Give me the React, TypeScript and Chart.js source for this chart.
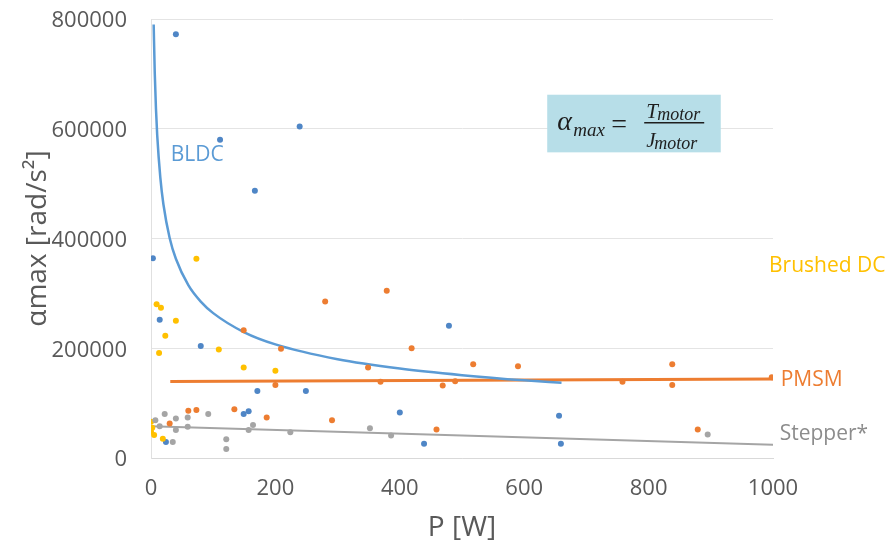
import React, { useEffect, useRef } from 'react';
import { Chart, registerables } from 'chart.js';

Chart.register(...registerables);

// ---- Data ----
const X_MIN = 0;
const X_MAX = 1000;
const X_STEP = 200;
const Y_MIN = 0;
const Y_MAX = 800000;
const Y_STEP = 200000;

const bldcX = [40, 111, 239, 167, 3, 14, 80, 171, 249, 149, 157, 400, 479, 439, 24, 656, 659];
const bldcY = [772000, 580000, 604000, 487000, 364000, 252000, 204000, 122000, 122000, 80000, 85000, 83000, 241000, 26000, 29000, 77000, 26000];

const pmsmX = [149, 280, 379, 419, 209, 349, 369, 200, 469, 489, 60, 73, 134, 186, 291, 459, 30, 518, 590, 758, 838, 838, 879, 998];
const pmsmY = [233000, 285000, 305000, 200000, 199000, 165000, 139000, 133000, 132000, 140000, 86000, 87500, 89000, 74000, 69000, 52000, 63000, 171000, 167000, 139000, 171000, 133000, 52000, 147000];

const brushedX = [73, 9, 16, 40, 23, 13, 109, 149, 200, 0, 2, 0, 5, 19];
const brushedY = [363000, 280000, 274000, 250000, 223000, 191500, 197500, 165000, 159000, 66000, 55000, 48000, 42000, 35000];

const stepperX = [7, 22, 40, 59, 59, 14, 40, 35, 92, 121, 121, 164, 157, 224, 352, 386, 895];
const stepperY = [69000, 80000, 72000, 74000, 57000, 58000, 51000, 29000, 80000, 34000, 16500, 60000, 51000, 47000, 54000, 41000, 43000];

// trend lines
const bldcTrendX = [4.3, 6, 8, 10, 15, 20, 30, 40, 60, 80, 100, 150, 200, 300, 400, 500, 600, 660];
const bldcTrendY = [790000, 703000, 636000, 588000, 511000, 462000, 401000, 363000, 315000, 285000, 264000, 229000, 207000, 180000, 163000, 151000, 141500, 137000];

const pmsmTrendX = [31, 1000];
const pmsmTrendY = [139500, 144000];

const stepperTrendX = [0, 1000];
const stepperTrendY = [58000, 24000];

// text annotations (placed in data coordinates)
const labelTexts = ['BLDC', 'Brushed DC', 'PMSM', 'Stepper*'];
const labelX = [31.6, 993.6, 1012.4, 1010.8];
const labelY = [552000, 349000, 143000, 44500];
const labelColors = ['#5B9BD5', '#FFC000', '#ED7D31', '#8C8C8C'];

const formulaBoxX = [637, 916];
const formulaBoxY = [557000, 662000];

const X_TITLE = 'P [W]';
const Y_TITLE = 'αmax [rad/s²]';

const toPts = (xs: number[], ys: number[]) => xs.map((x, i) => ({ x, y: ys[i] }));

const annotationPlugin = {
  id: 'annotations',
  afterDraw(chart: any) {
    const { ctx, scales } = chart;
    const xs = scales.x;
    const ys = scales.y;
    ctx.save();
    // series labels
    ctx.textAlign = 'left';
    ctx.textBaseline = 'middle';
    ctx.font = '21px "Open Sans"';
    labelTexts.forEach((t, i) => {
      ctx.fillStyle = labelColors[i];
      ctx.fillText(t, xs.getPixelForValue(labelX[i]), ys.getPixelForValue(labelY[i]));
    });

    // formula box
    const bx0 = xs.getPixelForValue(formulaBoxX[0]);
    const bx1 = xs.getPixelForValue(formulaBoxX[1]);
    const by0 = ys.getPixelForValue(formulaBoxY[1]);
    const by1 = ys.getPixelForValue(formulaBoxY[0]);
    ctx.fillStyle = '#B7DEE8';
    ctx.fillRect(bx0, by0, bx1 - bx0, by1 - by0);

    ctx.fillStyle = '#1E1E1E';
    ctx.textBaseline = 'alphabetic';
    const serif = '"Liberation Serif", "DejaVu Serif", serif';
    ctx.font = `italic 28px ${serif}`;
    ctx.fillText('α', bx0 + 10, by0 + 35);
    ctx.font = `italic 19px ${serif}`;
    ctx.fillText('max', bx0 + 26, by0 + 41);
    ctx.font = `28px ${serif}`;
    ctx.fillText('=', bx0 + 64, by0 + 38);
    // numerator
    ctx.font = `italic 21px ${serif}`;
    ctx.fillText('T', bx0 + 99, by0 + 23);
    ctx.font = `italic 18px ${serif}`;
    ctx.fillText('motor', bx0 + 110, by0 + 25);
    // bar
    ctx.strokeStyle = '#1E1E1E';
    ctx.lineWidth = 1.5;
    ctx.beginPath();
    ctx.moveTo(bx0 + 97, by0 + 28);
    ctx.lineTo(bx0 + 157, by0 + 28);
    ctx.stroke();
    // denominator
    ctx.font = `italic 21px ${serif}`;
    ctx.fillText('J', bx0 + 99, by0 + 52);
    ctx.font = `italic 18px ${serif}`;
    ctx.fillText('motor', bx0 + 107, by0 + 54);
    ctx.restore();
  },
};

export default function App() {
  const canvasRef = useRef<HTMLCanvasElement | null>(null);

  useEffect(() => {
    if (!canvasRef.current) return;
    const pointDs = (label: string, xs: number[], ys: number[], color: string) => ({
      label,
      data: toPts(xs, ys),
      showLine: false,
      pointRadius: 3,
      pointBackgroundColor: color,
      pointBorderColor: color,
      pointBorderWidth: 0,
      order: 1,
    });
    const lineDs = (label: string, xs: number[], ys: number[], color: string, width: number) => ({
      label,
      data: toPts(xs, ys),
      showLine: true,
      pointRadius: 0,
      borderColor: color,
      borderWidth: width,
      cubicInterpolationMode: 'monotone' as const,
      fill: false,
      order: 2,
    });

    const tickFont = { family: '"Open Sans"', size: 22 };
    const titleFont = { family: '"Open Sans"', size: 28 };

    const chart = new Chart(canvasRef.current, {
      type: 'scatter',
      data: {
        datasets: [
          lineDs('BLDC trend', bldcTrendX, bldcTrendY, '#5B9BD5', 2.5),
          lineDs('PMSM trend', pmsmTrendX, pmsmTrendY, '#ED7D31', 3),
          lineDs('Stepper trend', stepperTrendX, stepperTrendY, '#A5A5A5', 2),
          pointDs('Stepper', stepperX, stepperY, '#A5A5A5'),
          pointDs('Brushed DC', brushedX, brushedY, '#FFC000'),
          pointDs('PMSM', pmsmX, pmsmY, '#ED7D31'),
          pointDs('BLDC', bldcX, bldcY, '#4F86C6'),
        ] as any,
      },
      options: {
        responsive: false,
        maintainAspectRatio: false,
        animation: false,
        layout: { padding: { top: 19, right: 119, bottom: 0, left: 0 } },
        plugins: {
          legend: { display: false },
          tooltip: { enabled: false },
        },
        scales: {
          x: {
            type: 'linear',
            min: X_MIN,
            max: X_MAX,
            ticks: {
              stepSize: X_STEP,
              padding: 18,
              color: '#595959',
              font: tickFont,
              maxRotation: 0,
              callback: (v: any) => String(v),
            },
            grid: { display: false, drawTicks: false },
            border: { display: true, color: '#D9D9D9', width: 1 },
            title: {
              display: true,
              text: X_TITLE,
              color: '#595959',
              font: titleFont,
              padding: { top: 0, bottom: 9 },
            },
            afterFit: (s: any) => {
              s.height = 96;
              s.paddingLeft = 0;
              s.paddingRight = 0;
            },
          },
          y: {
            type: 'linear',
            min: Y_MIN,
            max: Y_MAX,
            ticks: {
              stepSize: Y_STEP,
              padding: 24,
              labelOffset: 2,
              color: '#595959',
              font: tickFont,
              callback: (v: any) => String(v),
            },
            grid: { display: true, drawTicks: false, color: '#E4E4E4', lineWidth: 1 },
            border: { display: true, color: '#E0E0E0', width: 1 },
            title: {
              display: true,
              text: Y_TITLE,
              color: '#595959',
              font: titleFont,
              padding: { top: 21, bottom: 0 },
            },
            afterFit: (s: any) => {
              s.width = 151;
              s.paddingTop = 0;
              s.paddingBottom = 0;
            },
          },
        },
      } as any,
      plugins: [annotationPlugin],
    });
    return () => chart.destroy();
  }, []);

  return (
    <div style={{ position: 'fixed', left: 0, top: 0, width: 892, height: 554, background: '#fff' }}>
      <canvas ref={canvasRef} width={892} height={554} style={{ width: 892, height: 554, display: 'block' }} />
    </div>
  );
}
